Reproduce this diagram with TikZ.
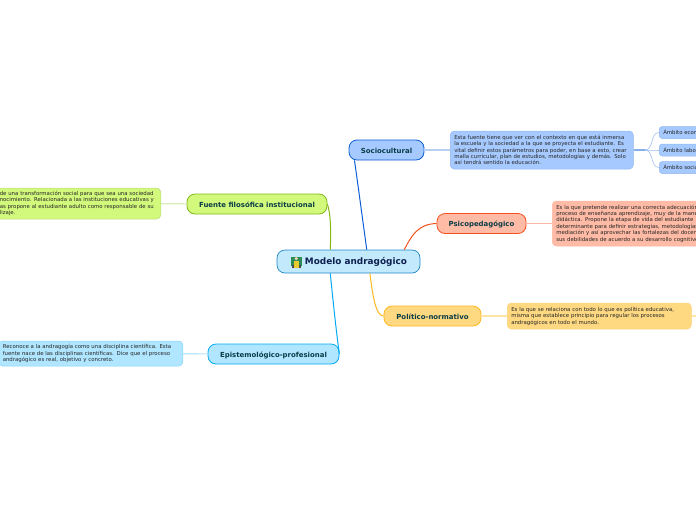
\documentclass[tikz,border=0pt]{standalone}
\usepackage{fontspec}
\setmainfont{DejaVu Sans}
\usetikzlibrary{positioning}
\definecolor{rootfill}{HTML}{C2E9FC}
\definecolor{rootline}{HTML}{1E88C8}
\definecolor{sociofill}{HTML}{A6CAFF}
\definecolor{socioline}{HTML}{0B5ED7}
\definecolor{psicofill}{HTML}{FFBBA6}
\definecolor{psicoline}{HTML}{F4511E}
\definecolor{polifill}{HTML}{FFD982}
\definecolor{poliline}{HTML}{FBB81E}
\definecolor{fuentefill}{HTML}{D2F97C}
\definecolor{fuenteline}{HTML}{84B816}
\definecolor{epifill}{HTML}{B0E6FF}
\definecolor{epiline}{HTML}{03A9F4}
\definecolor{headtext}{HTML}{0A3C46}
\definecolor{roottext}{HTML}{0D1F4F}
\definecolor{boardgreen}{HTML}{2E8B57}
\tikzset{
  topicbox/.style={draw, rounded corners=8pt, line width=0.8pt, align=center, inner sep=0pt,
    minimum height=20pt, text height=6pt, text depth=0pt, text=headtext, font=\fontsize{6.95}{8}\selectfont\bfseries},
  notebox/.style={rounded corners=4pt, line width=0.5pt, inner ysep=0pt, inner xsep=4pt, align=left,
    text=black!85, font=\fontsize{5.4}{6.4}\selectfont},
  subbox/.style={rounded corners=3pt, line width=0.5pt, inner ysep=0pt, inner xsep=4pt, minimum height=12pt, text width=70pt,
    align=left, text=black!85, font=\fontsize{5.4}{6.4}\selectfont},
  bigline/.style={line width=1pt},
  thinline/.style={line width=1.1pt}
}
\begin{document}
\begin{tikzpicture}[x=1pt,y=-1pt]
\useasboundingbox (0,0) rectangle (696,520);
\clip (0,0) rectangle (696,520);

\coordinate (polifree) at (696,316);
\coordinate (sociofork) at (645,150);

\node[draw=rootline, fill=rootfill, rounded corners=8pt, line width=0.7pt, minimum width=143pt, minimum height=23pt,
  inner sep=0pt, text=roottext, font=\fontsize{8.9}{10}\selectfont\bfseries] (root) at (348.5,261.5) {\hspace*{15pt}Modelo andragógico};
% icon
\fill[boardgreen] (290.5,257) rectangle (302,266);
\fill[black!70] (292,265) rectangle (300.5,268);
\fill[yellow!60!brown] (293.5,261) rectangle (299,267.5);
\fill[orange!30] (296.2,258.6) circle (1.8pt);

\node[topicbox, draw=socioline, fill=sociofill, minimum width=75pt] (socio) at (386.5,150) {Sociocultural};
\node[topicbox, draw=psicoline, fill=psicofill, minimum width=89pt] (psico) at (481.5,223.5) {Psicopedagógico};
\node[topicbox, draw=poliline, fill=polifill, minimum width=97pt] (poli) at (432.5,316) {Político-normativo};
\node[topicbox, draw=fuenteline, fill=fuentefill, minimum width=140pt] (fuente) at (257,204) {Fuente filosófica institucional};
\node[topicbox, draw=epiline, fill=epifill, minimum width=131pt] (epi) at (273.5,354) {Epistemológico-profesional};

\node[notebox, draw=socioline!45, fill=sociofill, anchor=west, text width=175pt, minimum height=38pt] (socionote) at (450,150) {Esta fuente tiene que ver con el contexto en que está inmersa\\la escuela y la sociedad a la que se proyecta el estudiante. Es\\vital definir estos parámetros para poder, en base a esto, crear\\malla curricular, plan de estudios, metodologías y demás. Solo\\así tendrá sentido la educación.};
\node[notebox, draw=psicoline!40, fill=psicofill, anchor=west, text width=200pt, minimum height=45pt] (psiconote) at (552,223.5) {Es la que pretende realizar una correcta adecuación\\proceso de enseñanza aprendizaje, muy de la manera\\didáctica. Propone la etapa de vida del estudiante\\determinante para definir estrategias, metodologías\\mediación y así aprovechar las fortalezas del docente\\sus debilidades de acuerdo a su desarrollo cognitivo};
\node[notebox, draw=poliline!60, fill=polifill, anchor=west, text width=176pt, minimum height=26pt] (polinote) at (507,316) {Es la que se relaciona con todo lo que es política educativa,\\misma que establece principio para regular los procesos\\andragógicos en todo el mundo.};
\node[notebox, draw=fuenteline!55, fill=fuentefill, anchor=east, text width=157pt, minimum height=31pt] (fuentenote) at (161,203.5) {de una transformación social para que sea una sociedad\\nocimiento. Relacionada a las instituciones educativas y\\as propone al estudiante adulto como responsable de su\\lizaje.};
\node[notebox, draw=epiline!50, fill=epifill, anchor=east, text width=176pt, minimum height=25pt] (epinote) at (183,353.5) {Reconoce a la andragogía como una disciplina científica. Esta\\fuente nace de las disciplinas científicas. Dice que el proceso\\andragógico es real, objetivo y concreto.};

\foreach \i/\y/\t in {1/132.5/Ámbito económico, 2/150/Ámbito laboral, 3/167.5/Ámbito social}
  \node[subbox, draw=socioline!45, fill=sociofill, anchor=west] (sub\i) at (659,\y) {\t};

\draw[bigline, socioline] (root.33) .. controls (362,215) and (358,185) .. (socio.198);
\draw[bigline, psicoline] (root.12) .. controls (412,235) and (418,224) .. (psico.west);
\draw[bigline, poliline] (root.-29) .. controls (373,298) and (376,316) .. (poli.west);
\draw[bigline, fuenteline] (root.147) .. controls (331,235) and (331,215) .. (fuente.east);
\draw[bigline, epiline] (root.213) .. controls (333,300) and (336,330) .. (epi.east);

\draw[thinline, socioline!30] (socio) -- (socionote);
\draw[thinline, psicoline!40] (psico) -- (psiconote);
\draw[thinline, poliline!40] (poli) -- (polinote);
\draw[thinline, fuenteline!30] (fuente) -- (fuentenote);
\draw[thinline, epiline!30] (epi) -- (epinote);
\draw[thinline, poliline!40] (polinote) -- (polifree);
\draw[thinline, socioline!50] (socionote) -- (sociofork);
\foreach \i in {1,2,3}
  \draw[line width=0.6pt, socioline!40] (sociofork) to[out=0, in=180] (sub\i);
\end{tikzpicture}
\end{document}
